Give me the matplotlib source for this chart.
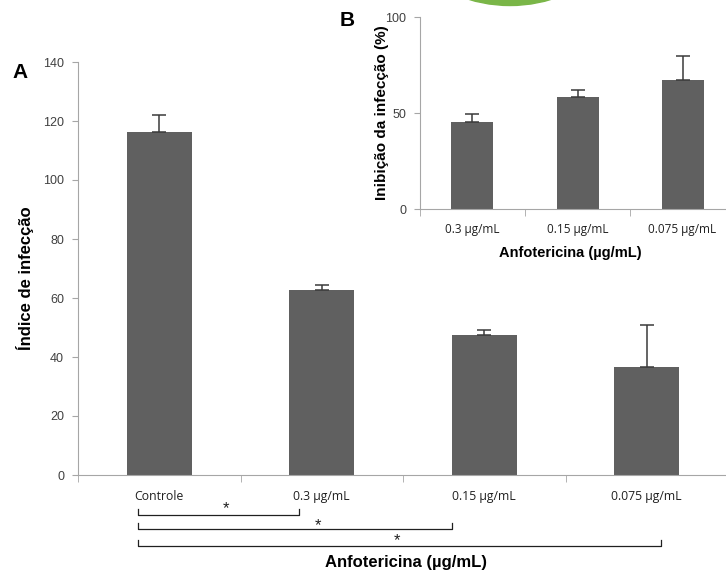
import matplotlib
matplotlib.use("Agg")
import matplotlib.pyplot as plt
import matplotlib.transforms as mtransforms
from matplotlib.patches import Ellipse
import numpy as np

plt.rcParams['font.family'] = ['Liberation Sans', 'DejaVu Sans']

# Main chart data
categories = ["Controle", "0.3 µg/mL", "0.15 µg/mL", "0.075 µg/mL"]
values = [116.3, 62.7, 47.5, 36.6]
errors = [5.7, 1.7, 1.7, 14.2]
yticks = [0, 20, 40, 60, 80, 100, 120, 140]

# Inset data
inset_categories = ["0.3 µg/mL", "0.15 µg/mL", "0.075 µg/mL"]
inset_values = [45.3, 58.3, 67.2]
inset_errors = [4.2, 3.7, 12.5]
inset_yticks = [0, 50, 100]

# significance brackets: (start index, end index)
brackets = [(0, 1), (0, 2), (0, 3)]

BAR = "#606060"
SPINE = "#a6a6a6"
TXT = "#404040"
ERR = "#3a3a3a"

W, H = 726, 570
fig = plt.figure(figsize=(W / 100, H / 100), dpi=100)

def fr(x0, y0, x1, y1):
    # pixel box (top-left origin) -> figure fraction
    return [x0 / W, 1 - y1 / H, (x1 - x0) / W, (y1 - y0) / H]

# ---- decorative green shape at top ----
fig.patches.append(Ellipse((510 / W, 1 + 137 / H), 285 / W, 285 / H,
                           transform=fig.transFigure, color="#7ab648", zorder=0))

# ---- main axes ----
ax = fig.add_axes(fr(78, 62, 728, 475))
x = np.arange(len(categories))
ax.bar(x, values, width=0.4, color=BAR, zorder=2)
ax.errorbar(x, values, yerr=[np.zeros(len(errors)), errors], fmt="none",
            ecolor=ERR, elinewidth=1.1, capsize=5, capthick=1.1, zorder=3)
ax.set_xlim(-0.5, len(categories) - 0.5)
ax.set_ylim(0, 140)
ax.set_yticks(yticks)
ax.set_yticklabels([str(v) for v in yticks], fontsize=9, color=TXT)
ax.set_xticks(x)
ax.set_xticklabels(categories, fontsize=8.8, color="#202020", family=["Open Sans", "DejaVu Sans"])
ax.tick_params(axis="x", which="major", length=0, pad=11)
ax.set_xticks(np.arange(-0.5, len(categories) - 0.4, 1.0), minor=True)
ax.tick_params(axis="x", which="minor", length=5, color=SPINE, direction="out")
ax.tick_params(axis="y", length=4, color=SPINE, direction="out", pad=6)
for s in ["top", "right"]:
    ax.spines[s].set_visible(False)
ax.spines["left"].set_color(SPINE)
ax.spines["bottom"].set_color(SPINE)
ax.set_ylabel("Índice de infecção", fontsize=12, fontweight="bold")
ax.yaxis.label.set_va("center")
ax.yaxis.set_label_coords((25 - 78) / 650, (475 - 278) / 413)

# brackets below axis (y in axes fraction, x in data units)
trans = mtransforms.blended_transform_factory(ax.transData, ax.transAxes)
br_y = [-0.0969, -0.1308, -0.1719]
star_xy = [(0.41, -0.082), (0.975, -0.122), (1.46, -0.158)]
x_left = -0.13
x_right = {1: 0.858, 2: 1.80, 3: 3.09}
for (a, b), yy, (sx, sy) in zip(brackets, br_y, star_xy):
    xr = x_right[b]
    ax.plot([x_left, x_left, xr, xr], [yy + 0.0145, yy, yy, yy + 0.0145],
            transform=trans, clip_on=False, color="#202020", lw=0.9)
    ax.text(sx, sy, "*", transform=trans, ha="center",
            va="center", fontsize=12, color="#202020")

ax.text(1.52, -0.2107, "Anfotericina (µg/mL)", transform=trans, ha="center",
        va="center", fontsize=12, fontweight="bold")
fig.text(20 / W, 1 - 72.5 / H, "A", fontsize=15, fontweight="bold",
         va="center", ha="center")

# ---- inset ----
axi = fig.add_axes(fr(420, 17, 735, 209))
xi = np.arange(len(inset_categories))
axi.bar(xi, inset_values, width=0.4, color=BAR, zorder=2)
axi.errorbar(xi, inset_values, yerr=[np.zeros(len(inset_errors)), inset_errors],
             fmt="none", ecolor=ERR, elinewidth=1.1, capsize=5, capthick=1.1, zorder=3)
axi.set_xlim(-0.5, len(inset_categories) - 0.5)
axi.set_ylim(0, 100)
axi.set_yticks(inset_yticks)
axi.set_yticklabels([str(v) for v in inset_yticks], fontsize=9, color=TXT)
axi.set_xticks(xi)
axi.set_xticklabels(inset_categories, fontsize=8.5, color="#202020", family=["Open Sans", "DejaVu Sans"])
axi.tick_params(axis="x", which="major", length=0, pad=10)
axi.set_xticks(np.arange(-0.5, len(inset_categories) - 0.4, 1.0), minor=True)
axi.tick_params(axis="x", which="minor", length=5, color=SPINE, direction="out")
axi.tick_params(axis="y", length=4, color=SPINE, direction="out", pad=6)
for s in ["top", "right"]:
    axi.spines[s].set_visible(False)
axi.spines["left"].set_color(SPINE)
axi.spines["bottom"].set_color(SPINE)
axi.set_ylabel("Inibição da infecção (%)", fontsize=11, fontweight="bold")
axi.yaxis.set_label_coords((382 - 420) / 315, 0.5)
axi.set_xlabel("Anfotericina (µg/mL)", fontsize=10.5, fontweight="bold")
axi.xaxis.set_label_coords((570 - 420) / 315, -(253 - 209) / 192)
axi.xaxis.label.set_va("center")
axi.yaxis.label.set_va("center")
fig.text(347.5 / W, 1 - 20.5 / H, "B", fontsize=15, fontweight="bold",
         va="center", ha="center")

fig.savefig("out.png", dpi=100)
